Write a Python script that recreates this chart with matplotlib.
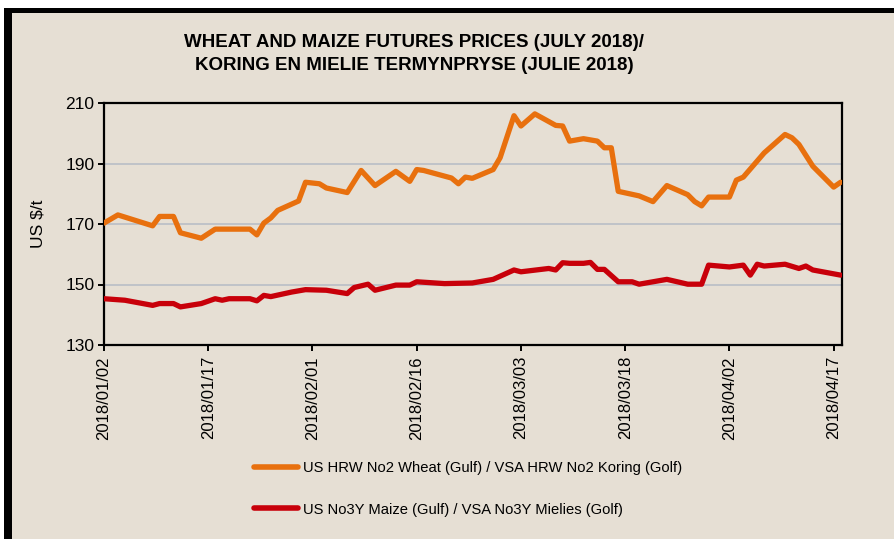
import matplotlib
matplotlib.use("Agg")
import matplotlib.pyplot as plt
import matplotlib.dates as mdates
import pandas as pd

# wheat (orange) - vertices
wheat_dates = [
    "2018-01-02", "2018-01-04", "2018-01-09", "2018-01-10", "2018-01-12",
    "2018-01-13", "2018-01-16", "2018-01-18", "2018-01-23", "2018-01-24",
    "2018-01-25", "2018-01-26", "2018-01-27", "2018-01-30", "2018-01-31",
    "2018-02-02", "2018-02-03", "2018-02-06", "2018-02-08", "2018-02-10",
    "2018-02-13", "2018-02-15", "2018-02-16", "2018-02-17", "2018-02-21",
    "2018-02-22", "2018-02-23", "2018-02-24", "2018-02-27", "2018-02-28",
    "2018-03-02", "2018-03-03", "2018-03-05", "2018-03-08", "2018-03-09",
    "2018-03-10", "2018-03-12", "2018-03-14", "2018-03-15", "2018-03-16",
    "2018-03-17", "2018-03-20", "2018-03-22", "2018-03-24", "2018-03-27",
    "2018-03-28", "2018-03-29", "2018-03-30", "2018-04-02", "2018-04-03",
    "2018-04-04", "2018-04-07", "2018-04-10", "2018-04-11", "2018-04-12",
    "2018-04-14", "2018-04-17", "2018-04-18",
]
wheat_values = [
    170.3, 173.0, 169.4, 172.5, 172.5, 167.1, 165.3, 168.3, 168.3, 166.4,
    170.3, 172.0, 174.5, 177.6, 183.8, 183.3, 181.9, 180.4, 187.7, 182.7,
    187.4, 184.1, 188.0, 187.7, 185.2, 183.3, 185.5, 185.1, 188.0, 191.9,
    205.8, 202.4, 206.4, 202.6, 202.4, 197.4, 198.2, 197.4, 195.2, 195.2,
    180.8, 179.3, 177.4, 182.7, 179.7, 177.4, 176.0, 178.9, 178.9, 184.5,
    185.5, 193.5, 199.6, 198.5, 196.3, 189.1, 182.2, 183.8,
]

# maize (red)
maize_dates = [
    "2018-01-02", "2018-01-05", "2018-01-09", "2018-01-10", "2018-01-12",
    "2018-01-13", "2018-01-16", "2018-01-18", "2018-01-19", "2018-01-20",
    "2018-01-23", "2018-01-24", "2018-01-25", "2018-01-26", "2018-01-29",
    "2018-01-31", "2018-02-03", "2018-02-06", "2018-02-07", "2018-02-09",
    "2018-02-10", "2018-02-13", "2018-02-15", "2018-02-16", "2018-02-20",
    "2018-02-24", "2018-02-27", "2018-03-02", "2018-03-03", "2018-03-07",
    "2018-03-08", "2018-03-09", "2018-03-10", "2018-03-12", "2018-03-13",
    "2018-03-14", "2018-03-15", "2018-03-17", "2018-03-19", "2018-03-20",
    "2018-03-24", "2018-03-27", "2018-03-29", "2018-03-30", "2018-04-02",
    "2018-04-04", "2018-04-05", "2018-04-06", "2018-04-07", "2018-04-10",
    "2018-04-12", "2018-04-13", "2018-04-14", "2018-04-18",
]
maize_values = [
    145.3, 144.8, 143.1, 143.7, 143.7, 142.6, 143.7, 145.3, 144.8, 145.3,
    145.3, 144.6, 146.4, 146.0, 147.5, 148.3, 148.1, 147.0, 149.0, 150.1,
    148.1, 149.8, 149.8, 150.9, 150.3, 150.5, 151.7, 154.8, 154.2, 155.3,
    154.8, 157.2, 157.0, 157.0, 157.3, 155.0, 155.0, 150.9, 150.9, 150.1,
    151.7, 150.1, 150.1, 156.4, 155.8, 156.4, 153.1, 156.7, 156.1, 156.7,
    155.3, 156.1, 154.8, 153.1,
]

tick_dates = ["2018-01-02", "2018-01-17", "2018-02-01", "2018-02-16",
              "2018-03-03", "2018-03-18", "2018-04-02", "2018-04-17"]
y_ticks = [130, 150, 170, 190, 210]

wheat_label = "US HRW No2 Wheat (Gulf) / VSA HRW No2 Koring (Golf)"
maize_label = "US No3Y Maize (Gulf) / VSA No3Y Mielies (Golf)"
title = "WHEAT AND MAIZE FUTURES PRICES (JULY 2018)/\nKORING EN MIELIE TERMYNPRYSE (JULIE 2018)"

plt.rcParams['font.family'] = ['Liberation Sans', 'DejaVu Sans']

bg = "#e6dfd4"
orange = "#e8700e"
red = "#c8000a"

fig = plt.figure(figsize=(8.95, 5.39), dpi=100)
fig.patch.set_facecolor("white")

# beige panel with black top/left edge
fig.patches.append(plt.Rectangle((4/895, 0), 1, 1 - 8/539, transform=fig.transFigure,
                                 facecolor=bg, edgecolor="none", zorder=-2))
fig.patches.append(plt.Rectangle((4/895, 1 - 13/539), 1, 5/539, transform=fig.transFigure,
                                 facecolor="black", edgecolor="none", zorder=-1))
fig.patches.append(plt.Rectangle((4/895, 0), 8/895, 1 - 8/539, transform=fig.transFigure,
                                 facecolor="black", edgecolor="none", zorder=-1))

ax = fig.add_axes([104/895, 1 - 345/539, 738/895, 242/539])
ax.set_facecolor(bg)

wd = pd.to_datetime(wheat_dates)
md = pd.to_datetime(maize_dates)
ax.plot(wd, wheat_values, color=orange, lw=3.8, solid_joinstyle="round",
        solid_capstyle="round", label=wheat_label, zorder=3)
ax.plot(md, maize_values, color=red, lw=3.8, solid_joinstyle="round",
        solid_capstyle="round", label=maize_label, zorder=3)

ax.set_ylim(130, 210)
ax.set_yticks(y_ticks)
x0 = pd.Timestamp("2018-01-02")
ax.set_xlim(x0, x0 + pd.Timedelta(days=106.2))
ax.set_xticks(pd.to_datetime(tick_dates))
ax.xaxis.set_major_formatter(mdates.DateFormatter("%Y/%m/%d"))
ax.grid(axis="y", color="#b9bec6", lw=1.2)
ax.set_axisbelow(True)

for s in ax.spines.values():
    s.set_color("black")
    s.set_linewidth(1.6)
ax.tick_params(axis="y", direction="out", length=4, width=1.4, labelsize=12.5, pad=3)
ax.tick_params(axis="x", direction="out", length=4, width=1.4, labelsize=12,
               labelrotation=90, pad=4)
ax.set_ylabel("US $/t", fontsize=12.5, labelpad=14)

fig.text(0.463, 1 - 54/539, title, ha="center", va="center", fontsize=13.5,
         fontweight="bold", linespacing=1.5)

leg = fig.legend(loc="center left", bbox_to_anchor=(254/895, 1 - 489/539), ncol=1,
                 frameon=False, fontsize=10.6, handlelength=3.0, handletextpad=0.35,
                 labelspacing=1.85, borderpad=0, borderaxespad=0)
for h in leg.legend_handles:
    h.set_linewidth(4)

fig.savefig("out.png", dpi=100, facecolor=fig.get_facecolor())
